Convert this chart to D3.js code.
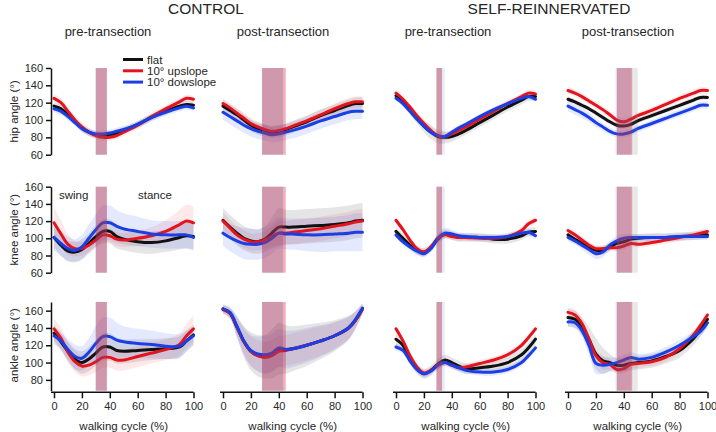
<!DOCTYPE html>
<html>
<head>
<meta charset="utf-8">
<script src="https://cdn.jsdelivr.net/npm/d3@7"></script>
<style>
  body { margin: 0; background: #fff; }
  svg { font-family: "Liberation Sans", Arial, sans-serif; }
</style>
</head>
<body>
<svg id="chart" width="716" height="432"></svg>
<script>
// ---------- DATA ----------
const cyclePct = [0,5,10,15,20,25,30,35,40,45,50,60,70,80,90,95,100];
const groupTitles = ["CONTROL", "SELF-REINNERVATED"];
const columnTitles = ["pre-transection", "post-transection", "pre-transection", "post-transection"];
const rowLabels = ["hip angle (°)", "knee angle (°)", "ankle angle (°)"];
const legendLabels = ["flat", "10° upslope", "10° dowslope"];
const xTicks = [0,20,40,60,80,100];
const hipKneeTicks = [60,80,100,120,140,160];
const ankleTicks = [80,100,120,140,160];

// transition (swing -> stance) bands per column: [start, end] in % of cycle
const transFlat = [[30,38],[28,43],[29,33],[35,50]];
const transUp   = [[30,38],[28,45],[29,33],[35,46]];
const transDown = [[29.5,37.5],[28,43],[29,35],[34,45]];

// HIP
const hipCtrlPreFlat = [116,113,106,98,91,86,83,82,83,85,88,95,103,110,116,118,117];
const hipCtrlPreUp   = [125,120,110,100,92,86,82,80,80,82,86,94,104,113,121,125,124];
const hipCtrlPreDown = [113,110,104,97,90,86,84,84,85,87,89,95,103,109,114,116,114];
const hipCtrlPostFlat = [116,111,106,100,94,90,88,86,87,89,92,98,105,111,117,119,119];
const hipCtrlPostUp   = [119,114,108,102,96,92,89,87,88,90,93,99,106,113,119,121,121];
const hipCtrlPostDown = [109,104,99,94,90,87,85,83,84,86,88,93,99,104,109,110,110];
const hipReinPreFlat = [128,121,112,102,93,86,81,80,81,84,88,97,106,115,123,127,127];
const hipReinPreUp   = [131,124,115,105,96,88,82,81,84,88,92,101,110,119,127,131,130];
const hipReinPreDown = [125,119,110,101,93,86,82,81,86,91,95,104,112,119,125,127,124];
const hipReinPostFlat = [124,121,117,113,108,103,98,94,93,95,99,105,111,117,123,126,126];
const hipReinPostUp   = [134,131,127,122,117,112,106,100,98,101,105,111,118,125,131,134,134];
const hipReinPostDown = [116,112,108,103,97,92,87,84,84,86,90,96,102,108,114,117,117];

// KNEE
const kneeCtrlPreFlat = [101,92,85,84,87,94,102,108,108,102,99,96,95,97,101,103,102];
const kneeCtrlPreUp   = [118,105,93,88,88,92,98,104,103,99,98,100,103,108,116,120,118];
const kneeCtrlPreDown = [101,94,88,86,90,100,110,118,118,114,111,108,105,104,104,104,101];
const kneeCtrlPostFlat = [121,113,106,100,97,96,99,106,113,113,113,114,115,116,118,120,121];
const kneeCtrlPostUp   = [120,112,104,99,96,96,98,102,106,106,107,109,111,114,117,119,120];
const kneeCtrlPostDown = [106,101,97,94,93,93,95,100,106,105,105,104,104,105,106,107,107];
const kneeReinPreFlat = [108,100,92,86,84,89,99,105,103,101,101,101,99,99,103,107,108];
const kneeReinPreUp   = [121,110,98,88,84,90,100,104,102,101,101,100,100,102,109,117,121];
const kneeReinPreDown = [104,96,90,85,82,88,100,106,105,103,102,101,101,102,106,107,103];
const kneeReinPostFlat = [104,99,94,90,86,86,90,94,96,99,100,101,101,102,103,104,104];
const kneeReinPostUp   = [109,104,98,92,88,88,89,89,91,94,93,95,98,101,104,106,108];
const kneeReinPostDown = [101,97,92,87,82,84,92,97,100,101,101,101,101,102,102,102,102];

// ANKLE
const ankleCtrlPreFlat = [134,124,113,104,100,104,111,118,118,114,113,114,115,116,118,125,132];
const ankleCtrlPreUp   = [139,128,112,101,96,97,101,106,106,103,103,107,111,115,121,131,139];
const ankleCtrlPreDown = [131,125,115,107,105,112,122,130,130,126,124,122,121,119,119,125,131];
const ankleCtrlPostFlat = [162,157,141,124,113,108,107,110,116,115,116,120,125,131,140,149,162];
const ankleCtrlPostUp   = [161,157,141,124,113,108,106,108,113,114,116,120,125,131,140,149,162];
const ankleCtrlPostDown = [162,158,142,125,114,110,109,111,117,115,116,120,125,131,140,150,163];
const ankleReinPreFlat = [127,120,104,93,87,91,98,103,100,96,93,94,96,100,109,117,127];
const ankleReinPreUp   = [139,125,108,95,88,91,97,100,97,94,95,99,103,109,120,129,139];
const ankleReinPreDown = [118,114,102,92,87,90,97,100,97,94,91,89,89,92,100,108,117];
const ankleReinPostFlat = [152,150,142,127,110,102,100,97,97,99,100,102,107,114,128,138,150];
const ankleReinPostUp   = [158,155,145,127,108,100,98,92,93,98,99,101,106,116,132,143,155];
const ankleReinPostDown = [147,146,137,120,99,97,98,100,103,106,104,106,112,120,130,136,146];

// standard deviations (same grid)
const hipCtrlPreFlatSd = [4,4,4,4,4,4,4,4,4,4,4,4,4,4,4,4,4];
const hipCtrlPreUpSd   = [5,5,5,5,5,5,4,4,4,4,4,4,4,4,4,4,4];
const hipCtrlPreDownSd = [4,4,4,4,4,4,4,4,4,4,4,4,4,4,4,4,4];
const hipCtrlPostFlatSd = [7,7,7,7,7,7,7,7,7,7,7,7,7,7,7,7,7];
const hipCtrlPostUpSd   = [6,6,6,6,6,6,6,6,6,6,6,6,6,6,6,6,6];
const hipCtrlPostDownSd = [9,9,9,9,9,9,9,9,9,9,9,9,9,9,9,9,9];
const hipReinPreFlatSd = [5,5,5,6,7,8,8,7,6,5,5,5,5,5,5,5,5];
const hipReinPreUpSd   = [4,4,4,4,4,5,5,5,5,4,4,4,4,4,4,4,4];
const hipReinPreDownSd = [3,3,3,3,3,3,3,3,3,3,3,3,3,3,3,3,3];
const hipReinPostFlatSd = [3,3,3,3,3,3,3,3,3,3,3,3,3,3,3,3,3];
const hipReinPostUpSd   = [4,4,4,4,4,4,4,4,4,4,4,4,4,4,4,4,4];
const hipReinPostDownSd = [6,6,6,5,5,4,4,4,4,4,4,4,4,4,4,4,4];

const kneeCtrlPreFlatSd = [12,12,12,12,12,12,13,14,14,14,13,13,13,13,14,15,15];
const kneeCtrlPreUpSd   = [18,16,12,9,8,8,8,8,8,8,8,9,10,13,17,19,19];
const kneeCtrlPreDownSd = [15,15,14,13,14,16,18,20,20,19,18,17,16,16,16,16,16];
const kneeCtrlPostFlatSd = [14,14,14,14,14,14,15,18,22,20,20,20,20,20,20,20,20];
const kneeCtrlPostUpSd   = [10,10,10,10,10,10,10,12,14,14,14,14,14,14,14,14,14];
const kneeCtrlPostDownSd = [15,16,17,18,18,18,18,18,18,18,18,19,20,20,21,22,22];
const kneeReinPreFlatSd = [5,5,5,5,5,5,5,5,5,5,5,5,5,5,5,5,5];
const kneeReinPreUpSd   = [4,4,4,4,4,4,4,4,4,4,4,4,4,4,4,4,4];
const kneeReinPreDownSd = [4,4,4,4,4,4,5,6,5,4,4,4,4,4,4,4,4];
const kneeReinPostFlatSd = [5,5,5,5,5,5,5,5,5,5,5,5,5,5,5,5,5];
const kneeReinPostUpSd   = [4,4,4,4,4,4,4,4,4,4,4,4,4,4,4,4,4];
const kneeReinPostDownSd = [4,4,5,6,6,6,5,5,5,4,4,4,4,4,4,4,4];

const ankleCtrlPreFlatSd = [10,10,11,12,13,14,15,16,16,15,14,13,12,12,12,12,12];
const ankleCtrlPreUpSd   = [12,12,12,12,12,12,12,12,12,12,12,12,12,12,13,14,15];
const ankleCtrlPreDownSd = [10,10,12,14,14,16,20,22,22,20,18,17,16,15,14,12,10];
const ankleCtrlPostFlatSd = [5,6,12,18,22,24,25,28,30,28,26,24,21,18,14,10,6];
const ankleCtrlPostUpSd   = [5,6,10,14,17,18,18,18,18,18,18,18,17,15,13,10,6];
const ankleCtrlPostDownSd = [5,6,12,16,18,20,22,22,22,22,21,20,18,16,13,10,6];
const ankleReinPreFlatSd = [6,6,6,6,6,6,6,6,6,6,6,6,6,6,6,6,6];
const ankleReinPreUpSd   = [4,4,4,4,4,4,4,4,4,4,4,4,4,4,4,4,4];
const ankleReinPreDownSd = [4,4,4,4,4,4,4,4,4,4,4,4,4,4,4,4,4];
const ankleReinPostFlatSd = [10,10,10,14,18,15,10,8,8,8,8,8,8,8,8,8,8];
const ankleReinPostUpSd   = [6,6,6,6,8,8,6,5,5,5,5,5,5,5,5,5,5];
const ankleReinPostDownSd = [6,6,8,10,12,10,8,6,6,6,6,6,6,6,6,6,6];

// ---------- TABLES built from the arrays ----------
const panels = [
  [ // hip
    {flat:[hipCtrlPreFlat,hipCtrlPreFlatSd], up:[hipCtrlPreUp,hipCtrlPreUpSd], down:[hipCtrlPreDown,hipCtrlPreDownSd]},
    {flat:[hipCtrlPostFlat,hipCtrlPostFlatSd], up:[hipCtrlPostUp,hipCtrlPostUpSd], down:[hipCtrlPostDown,hipCtrlPostDownSd]},
    {flat:[hipReinPreFlat,hipReinPreFlatSd], up:[hipReinPreUp,hipReinPreUpSd], down:[hipReinPreDown,hipReinPreDownSd]},
    {flat:[hipReinPostFlat,hipReinPostFlatSd], up:[hipReinPostUp,hipReinPostUpSd], down:[hipReinPostDown,hipReinPostDownSd]}
  ],
  [ // knee
    {flat:[kneeCtrlPreFlat,kneeCtrlPreFlatSd], up:[kneeCtrlPreUp,kneeCtrlPreUpSd], down:[kneeCtrlPreDown,kneeCtrlPreDownSd]},
    {flat:[kneeCtrlPostFlat,kneeCtrlPostFlatSd], up:[kneeCtrlPostUp,kneeCtrlPostUpSd], down:[kneeCtrlPostDown,kneeCtrlPostDownSd]},
    {flat:[kneeReinPreFlat,kneeReinPreFlatSd], up:[kneeReinPreUp,kneeReinPreUpSd], down:[kneeReinPreDown,kneeReinPreDownSd]},
    {flat:[kneeReinPostFlat,kneeReinPostFlatSd], up:[kneeReinPostUp,kneeReinPostUpSd], down:[kneeReinPostDown,kneeReinPostDownSd]}
  ],
  [ // ankle
    {flat:[ankleCtrlPreFlat,ankleCtrlPreFlatSd], up:[ankleCtrlPreUp,ankleCtrlPreUpSd], down:[ankleCtrlPreDown,ankleCtrlPreDownSd]},
    {flat:[ankleCtrlPostFlat,ankleCtrlPostFlatSd], up:[ankleCtrlPostUp,ankleCtrlPostUpSd], down:[ankleCtrlPostDown,ankleCtrlPostDownSd]},
    {flat:[ankleReinPreFlat,ankleReinPreFlatSd], up:[ankleReinPreUp,ankleReinPreUpSd], down:[ankleReinPreDown,ankleReinPreDownSd]},
    {flat:[ankleReinPostFlat,ankleReinPostFlatSd], up:[ankleReinPostUp,ankleReinPostUpSd], down:[ankleReinPostDown,ankleReinPostDownSd]}
  ]
];
const trans = {flat: transFlat, up: transUp, down: transDown};

// ---------- STYLE / LAYOUT ----------
const lineColor = {flat: "#111111", up: "#e3141e", down: "#1a3fe6"};
const sdFill = {flat: "rgba(0,0,0,0.10)", up: "rgba(235,40,50,0.10)", down: "rgba(40,70,235,0.12)"};
const transFill = {flat: "rgba(120,120,120,0.17)", down: "rgba(90,110,220,0.14)", up: "rgba(200,25,55,0.33)"};
const colLeft = [54, 223, 396, 568];
const colWidth = 139.5;
const rowScales = [
  d3.scaleLinear().domain([60,160]).range([154.7,68]),
  d3.scaleLinear().domain([60,160]).range([272.7,186.7]),
  d3.scaleLinear().domain([67.5,170]).range([390.7,302])
];
const rowTicks = [hipKneeTicks, hipKneeTicks, ankleTicks];

const svg = d3.select("#chart");
const textColor = "#262626";

// group titles
svg.append("text").attr("x", 206).attr("y", 14).attr("text-anchor","middle")
  .attr("font-size", 15.5).attr("fill", textColor).text(groupTitles[0]);
svg.append("text").attr("x", 549).attr("y", 14).attr("text-anchor","middle")
  .attr("font-size", 15.5).attr("fill", textColor).text(groupTitles[1]);
// column titles
const colTitleX = [108, 283, 448, 628];
columnTitles.forEach((t,i) => {
  svg.append("text").attr("x", colTitleX[i]).attr("y", 36).attr("text-anchor","middle")
    .attr("font-size", 13).attr("fill", textColor).text(t);
});

const order = ["flat", "up", "down"];
const bandOrder = ["flat", "down", "up"];

panels.forEach((row, r) => {
  const y = rowScales[r];
  row.forEach((p, c) => {
    const x = d3.scaleLinear().domain([0,100]).range([colLeft[c], colLeft[c] + colWidth]);
    const g = svg.append("g");
    // sd bands
    order.forEach(k => {
      const [mean, sd] = p[k];
      const pts = cyclePct.map((t,i) => ({t, m: mean[i], s: sd[i]}));
      const area = d3.area().x(d => x(d.t)).y0(d => y(d.m - d.s)).y1(d => y(d.m + d.s))
        .curve(d3.curveCatmullRom.alpha(0.5));
      g.append("path").attr("d", area(pts)).attr("fill", sdFill[k]).attr("stroke", "none");
    });
    // mean lines
    order.forEach(k => {
      const [mean] = p[k];
      const pts = cyclePct.map((t,i) => ({t, m: mean[i]}));
      const line = d3.line().x(d => x(d.t)).y(d => y(d.m)).curve(d3.curveCatmullRom.alpha(0.5));
      g.append("path").attr("d", line(pts)).attr("fill", "none")
        .attr("stroke", lineColor[k]).attr("stroke-width", 3).attr("stroke-linejoin","round").attr("stroke-linecap","round");
    });
    // transition bands
    const [y0, y1] = y.range();
    bandOrder.forEach(k => {
      const [a, b] = trans[k][c];
      g.append("rect").attr("x", x(a)).attr("width", x(b) - x(a))
        .attr("y", y1).attr("height", y0 - y1).attr("fill", transFill[k]);
    });
    // x axis on bottom row
    if (r === 2) {
      const ax = svg.append("g").attr("transform", `translate(0,392.3)`)
        .call(d3.axisBottom(x).tickValues(xTicks).tickSize(6).tickSizeOuter(0).tickPadding(4));
      ax.select(".domain").remove();
      ax.append("line").attr("x1", x(0) - 3).attr("x2", x(100)).attr("y1", 0).attr("y2", 0)
        .attr("stroke", "#111").attr("stroke-width", 1.5);
      ax.selectAll(".tick line").attr("stroke", "#111").attr("stroke-width", 1.5);
      ax.selectAll(".tick text").attr("font-size", 11).attr("fill", textColor)
        .attr("font-family", "Liberation Sans, Arial, sans-serif");
      svg.append("text").attr("x", x(50)).attr("y", 430).attr("text-anchor","middle")
        .attr("font-size", 11.5).attr("fill", textColor).text("walking cycle (%)");
    }
    // y axis on first column
    if (c === 0) {
      const ay = svg.append("g").attr("transform", `translate(${x(0) - 3},0)`)
        .call(d3.axisLeft(y).tickValues(rowTicks[r]).tickSize(5).tickSizeOuter(0).tickPadding(3));
      ay.select(".domain").attr("stroke", "#111").attr("stroke-width", 1.5);
      ay.selectAll(".tick line").attr("stroke", "#111").attr("stroke-width", 1.5);
      ay.selectAll(".tick text").attr("font-size", 11).attr("fill", textColor)
        .attr("font-family", "Liberation Sans, Arial, sans-serif");
      const ticks = rowTicks[r];
      const cy = y((ticks[0] + ticks[ticks.length-1]) / 2);
      svg.append("text").attr("transform", `translate(18,${cy}) rotate(-90)`)
        .attr("text-anchor","middle").attr("font-size", 11.5).attr("fill", textColor).text(rowLabels[r]);
    }
  });
});

// swing / stance labels
svg.append("text").attr("x", 59).attr("y", 199).attr("font-size", 11.5).attr("fill", textColor).text("swing");
svg.append("text").attr("x", 138).attr("y", 199).attr("font-size", 11.5).attr("fill", textColor).text("stance");

// legend
const legKeys = ["flat", "up", "down"];
legKeys.forEach((k, i) => {
  const ly = 59.5 + i * 11.3;
  svg.append("line").attr("x1", 123).attr("x2", 143).attr("y1", ly).attr("y2", ly)
    .attr("stroke", lineColor[k]).attr("stroke-width", 3);
  svg.append("text").attr("x", 147).attr("y", ly + 4).attr("font-size", 11.5).attr("fill", textColor).text(legendLabels[i]);
});
</script>
</body>
</html>
